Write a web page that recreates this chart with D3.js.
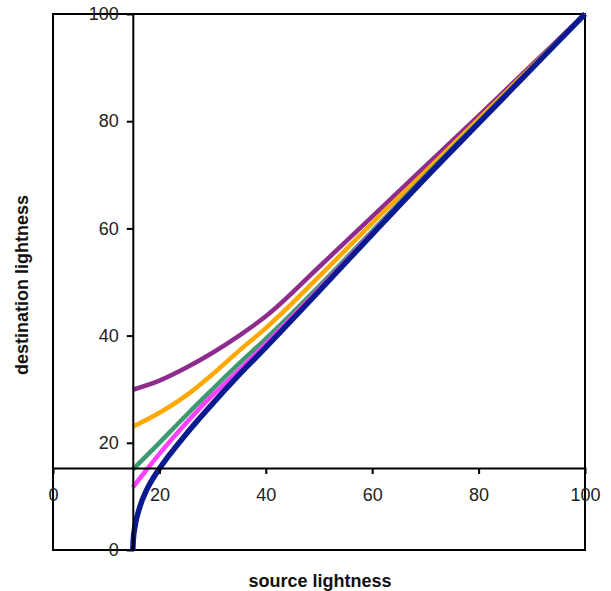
<!DOCTYPE html>
<html>
<head>
<meta charset="utf-8">
<script src="https://cdn.jsdelivr.net/npm/d3@7"></script>
<style>
  html, body { margin: 0; padding: 0; background: #fff; }
  text { font-family: "Liberation Sans", Arial, sans-serif; }
</style>
</head>
<body>
<svg id="chart" width="611" height="591"></svg>
<script>
// ---- data ----
const xTicks = [0, 20, 40, 60, 80, 100];
const yTicks = [0, 20, 40, 60, 80, 100];
const xTitle = "source lightness";
const yTitle = "destination lightness";

const purpleX = [15, 20, 25, 30, 35, 40, 50, 60, 70, 80, 90, 100];
const purpleY = [29.9, 31.6, 34, 36.8, 40, 43.6, 52.8, 62.2, 71.6, 81, 90.5, 100];

const orangeX = [15, 20, 25, 30, 35, 40, 50, 60, 70, 80, 90, 100];
const orangeY = [23, 25.6, 28.8, 32.8, 37.2, 41.4, 51, 61, 70.6, 80.4, 90.2, 100];

const greenX = [15, 20, 25, 30, 35, 40, 50, 60, 70, 80, 90, 100];
const greenY = [15, 20, 25.1, 30, 34.8, 39.4, 49.2, 59.5, 69.8, 79.9, 90, 100];

const pinkX = [15, 17.3, 19.8, 23.6, 28.6, 35, 40, 50, 60, 70, 80, 90, 100];
const pinkY = [11.7, 14.6, 17.7, 22.1, 27.5, 33.6, 38.5, 48.7, 59.2, 69.5, 79.7, 89.9, 100];

const blueX = [15, 15.1, 15.4, 16.35, 17.6, 19.2, 21.7, 25, 30, 35, 40, 50, 60, 70, 80, 90, 100];
const blueY = [0, 2, 4.3, 8.1, 11.2, 14, 17.5, 21.6, 27.3, 32.7, 37.8, 48.3, 58.9, 69.4, 79.6, 89.8, 100];

const seriesNames = ["purple", "orange", "green", "pink", "blue"];
const seriesColors = ["#8E2C8E", "#FFA800", "#3C9A70", "#FF40FF", "#0B1A8E"];
const seriesWidths = [4.5, 4.5, 4.5, 4.5, 5.5];
const seriesData = [
  [purpleX, purpleY], [orangeX, orangeY], [greenX, greenY], [pinkX, pinkY], [blueX, blueY]
];

// ---- layout ----
const mLeft = 53, mRight = 585, mTop = 14, mBottom = 550;
const axisCrossX = 15;   // y axis drawn at source = 15
const axisCrossY = 15.3; // x axis drawn at destination = 15.3

const svg = d3.select("#chart");
const x = d3.scaleLinear().domain([0, 100]).range([mLeft, mRight]);
const y = d3.scaleLinear().domain([0, 100]).range([mBottom, mTop]);

// frame
svg.append("rect")
  .attr("x", mLeft).attr("y", mTop)
  .attr("width", mRight - mLeft).attr("height", mBottom - mTop)
  .attr("fill", "none").attr("stroke", "#000").attr("stroke-width", 2);

// series
const line = d3.line().x(d => x(d[0])).y(d => y(d[1])).curve(d3.curveMonotoneX);
seriesData.forEach((s, i) => {
  const pts = s[0].map((v, j) => [v, s[1][j]]);
  svg.append("path")
    .datum(pts)
    .attr("class", "series " + seriesNames[i])
    .attr("d", line)
    .attr("fill", "none")
    .attr("stroke", seriesColors[i])
    .attr("stroke-width", seriesWidths[i])
    .attr("stroke-linejoin", "round")
    .attr("stroke-linecap", "butt");
});

// y axis at x = 15
const yAxis = d3.axisLeft(y)
  .tickValues(yTicks)
  .tickSize(6)
  .tickPadding(8);
const gy = svg.append("g").attr("transform", `translate(${x(axisCrossX)},0)`).call(yAxis);
gy.select(".domain").attr("stroke", "#000").attr("stroke-width", 2);
gy.selectAll(".tick line").attr("stroke", "#000").attr("stroke-width", 2)
  .attr("display", d => (d === 0 || d === 100) ? "none" : null);
gy.selectAll(".tick text")
  .attr("font-size", 18).attr("fill", "#222")
  .attr("font-family", "'Liberation Sans', Arial, sans-serif")
  .attr("x", -14);

// x axis at y = 15.3
const xAxis = d3.axisBottom(x)
  .tickValues(xTicks)
  .tickSize(6)
  .tickPadding(14);
const gx = svg.append("g").attr("transform", `translate(0,${y(axisCrossY)})`).call(xAxis);
gx.select(".domain").attr("stroke", "#000").attr("stroke-width", 2);
gx.selectAll(".tick line").attr("stroke", "#000").attr("stroke-width", 2)
  .attr("display", d => (d === 0 || d === 100) ? "none" : null);
gx.selectAll(".tick text")
  .attr("font-size", 18).attr("fill", "#222")
  .attr("font-family", "'Liberation Sans', Arial, sans-serif");

// axis titles
svg.append("text")
  .attr("x", (mLeft + mRight) / 2 + 1)
  .attr("y", 587)
  .attr("text-anchor", "middle")
  .attr("font-size", 18)
  .attr("font-weight", "bold")
  .attr("fill", "#111")
  .text(xTitle);

svg.append("text")
  .attr("transform", `translate(28,${(mTop + mBottom) / 2 + 3}) rotate(-90)`)
  .attr("text-anchor", "middle")
  .attr("font-size", 18)
  .attr("font-weight", "bold")
  .attr("fill", "#111")
  .text(yTitle);
</script>
</body>
</html>
